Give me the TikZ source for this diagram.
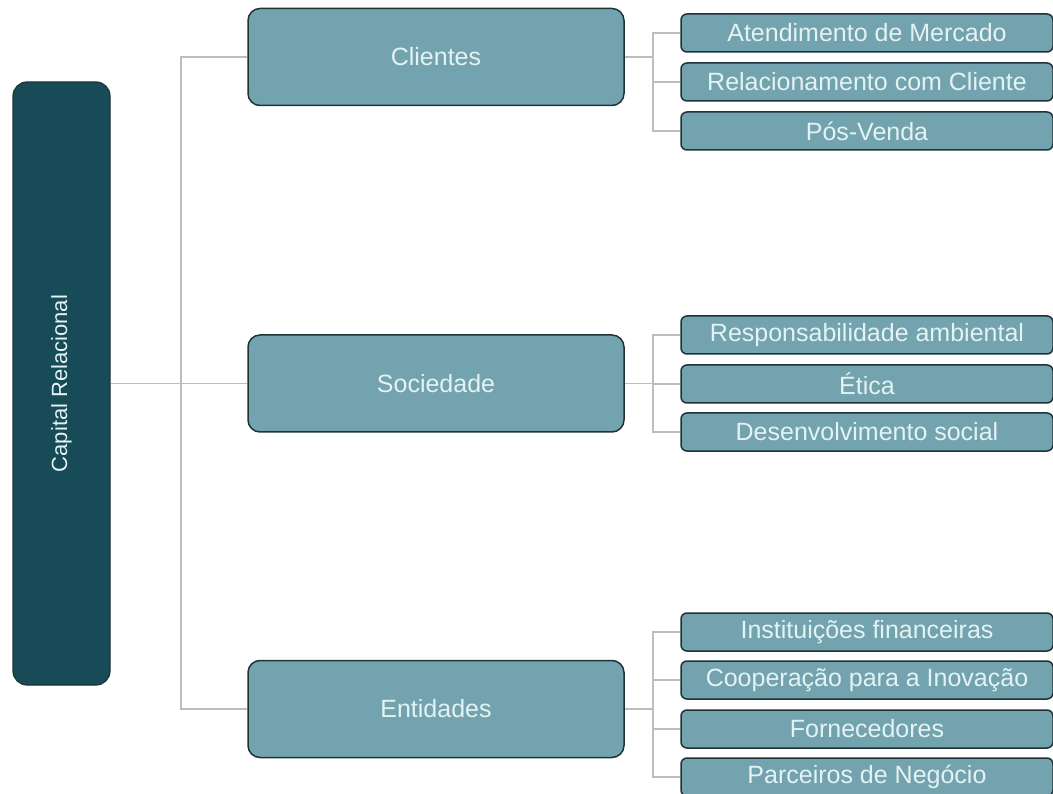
\documentclass[tikz,border=0pt]{standalone}
\usepackage{fontspec}
\setmainfont{Liberation Sans}
\definecolor{rootfill}{HTML}{174B57}
\definecolor{midfill}{HTML}{73A3AE}
\definecolor{edgecol}{HTML}{1E3238}
\definecolor{txtcol}{HTML}{E3F3F4}
\definecolor{linecol}{HTML}{BDBDBD}
\tikzset{
  rootbox/.style={draw=edgecol, line width=1.2pt, fill=rootfill, rounded corners=14pt, minimum width=97pt, minimum height=603pt, inner sep=0pt, text=txtcol, font=\fontsize{22}{26}\selectfont},
  branchbox/.style={draw=edgecol, line width=1.5pt, fill=midfill, rounded corners=12pt, minimum width=376pt, minimum height=97pt, inner sep=0pt, text=txtcol, font=\fontsize{25}{30}\selectfont},
  leafbox/.style={draw=edgecol, line width=1.5pt, fill=midfill, rounded corners=6pt, minimum width=372pt, minimum height=38pt, inner sep=0pt, text=txtcol, font=\fontsize{25}{30}\selectfont},
  conn/.style={draw=linecol, line width=1.1pt}
}
\begin{document}
\begin{tikzpicture}[x=1pt,y=-1pt]
\useasboundingbox (0,0) rectangle (1053,794);
\clip (0,0) rectangle (1053,794);
% root
\node[rootbox] (root) at (61.5,383.5) {};
\node[rotate=90, text=txtcol, font=\fontsize{22}{26}\selectfont] (roottxt) at (root.center) {Capital Relacional};
% branches
\node[branchbox] (cli) at (436,57) {Clientes};
\node[branchbox] (soc) at (436,383.5) {Sociedade};
\node[branchbox] (ent) at (436,709) {Entidades};
% leaves
\node[leafbox] (c1) at (867,33) {Atendimento de Mercado};
\node[leafbox] (c2) at (867,82) {Relacionamento com Cliente};
\node[leafbox] (c3) at (867,131) {Pós-Venda};
\node[leafbox] (s1) at (867,335) {Responsabilidade ambiental};
\node[leafbox] (s2) at (867,384) {Ética};
\node[leafbox] (s3) at (867,432) {Desenvolvimento social};
\node[leafbox] (e1) at (867,632) {Instituições financeiras};
\node[leafbox] (e2) at (867,680) {Cooperação para a Inovação};
\node[leafbox] (e3) at (867,729) {Fornecedores};
\node[leafbox] (e4) at (867,777) {Parceiros de Negócio};
% hubs
\coordinate (rh) at (181,383.5);
\coordinate (ch) at (653,57);
\coordinate (sh) at (653,383.5);
\coordinate (eh) at (653,709);
\begin{scope}[on background layer/.try]
\end{scope}
\draw[conn] (root.east) -- (soc.west);
\draw[conn] (rh) |- (cli.west);
\draw[conn] (rh) |- (ent.west);
\draw[conn] (cli.east) -- (ch);
\draw[conn] (ch) |- (c1.west);
\draw[conn] (ch) |- (c2.west);
\draw[conn] (ch) |- (c3.west);
\draw[conn] (soc.east) -- (sh);
\draw[conn] (sh) |- (s1.west);
\draw[conn] (sh) |- (s2.west);
\draw[conn] (sh) |- (s3.west);
\draw[conn] (ent.east) -- (eh);
\draw[conn] (eh) |- (e1.west);
\draw[conn] (eh) |- (e2.west);
\draw[conn] (eh) |- (e3.west);
\draw[conn] (eh) |- (e4.west);
\end{tikzpicture}
\end{document}
